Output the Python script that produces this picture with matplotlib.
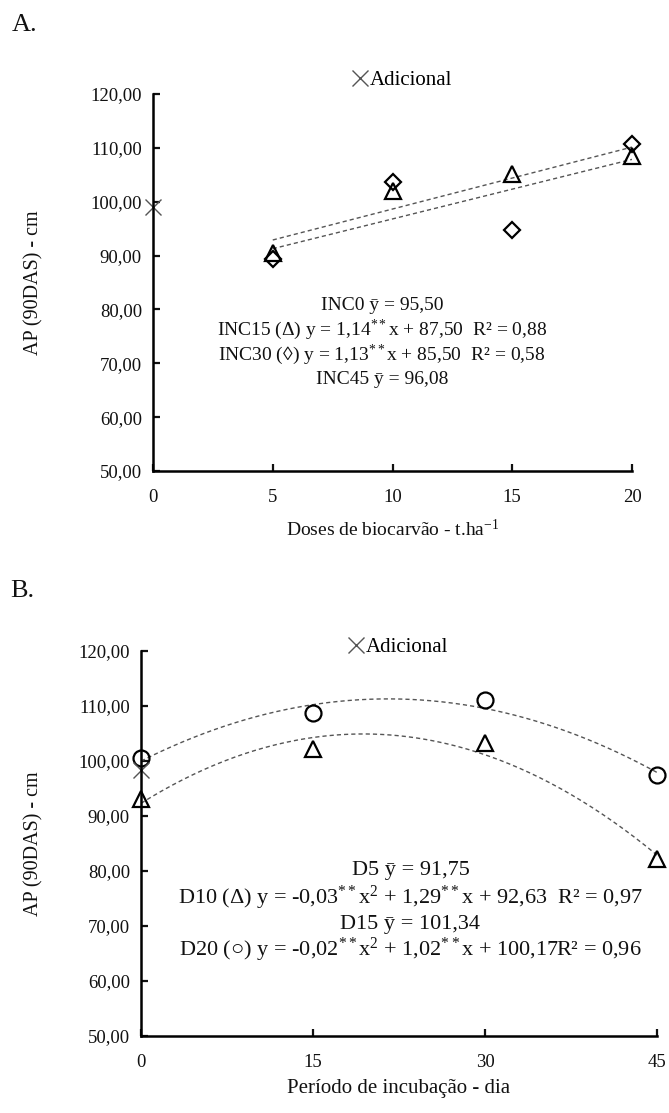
import numpy as np
import matplotlib.pyplot as plt
from matplotlib.ticker import FuncFormatter

plt.rcParams['font.family'] = ['Liberation Serif', 'DejaVu Serif']
plt.rcParams['mathtext.fontset'] = 'custom'
plt.rcParams['mathtext.rm'] = 'Liberation Serif'
plt.rcParams['mathtext.it'] = 'Liberation Serif:italic'

# Panel A - doses de biocarvão (t/ha)
doses = [5, 10, 15, 20]
inc15 = [90.4, 102.0, 105.2, 108.5]   # triângulos
inc30 = [89.3, 103.6, 94.7, 110.7]    # losangos
adicional_a = 99.0

# Panel B - período de incubação (dias)
dias = [0, 15, 30, 45]
d10 = [93.0, 102.2, 103.2, 82.2]      # triângulos
d20 = [100.5, 108.7, 111.1, 97.4]     # círculos
adicional_b = 98.3

eq_a = ['INC0 ȳ = 95,50',
        'INC15 (Δ) y = 1,14$^{**}$x + 87,50  R² = 0,88',
        'INC30 (◊) y = 1,13$^{**}$x + 85,50  R² = 0,58',
        'INC45 ȳ = 96,08']
eq_a_y = [80.8, 76.3, 71.5, 67.0]

eq_b = ['D5 ȳ = 91,75',
        'D10 (Δ) y = -0,03$^{**}$x$^2$ + 1,29$^{**}$x + 92,63  R² = 0,97',
        'D15 ȳ = 101,34',
        'D20 (○) y = -0,02$^{**}$x$^2$ + 1,02$^{**}$x + 100,17R² = 0,96']
eq_b_y = [80.0, 75.1, 70.2, 65.6]

TEXT = '#111111'
LINE = '#555555'


def style_axes(ax):
    for side in ('top', 'right'):
        ax.spines[side].set_visible(False)
    for side in ('left', 'bottom'):
        ax.spines[side].set_linewidth(1.8)
    ax.tick_params(direction='in', length=5, width=1.6, labelsize=13.5,
                   colors=TEXT)
    ax.tick_params(axis='y', pad=8)
    ax.tick_params(axis='x', pad=13)
    ax.set_ylim(50, 120)
    ax.set_yticks(range(50, 121, 10))
    ax.yaxis.set_major_formatter(
        FuncFormatter(lambda v, p: f'{v:.2f}'.replace('.', ',')))
    ax.set_ylabel('AP (90DAS) - cm', fontsize=14.5, color=TEXT)


def adicional_legend(ax, handle, pos):
    ax.legend([handle], ['Adicional'], loc='center', bbox_to_anchor=pos,
              frameon=False, handlelength=0.8, handletextpad=0.05,
              fontsize=15, borderaxespad=0)


fig = plt.figure(figsize=(6.69, 11.13), dpi=100)
ax_a = fig.add_axes([0.2287, 0.5768, 0.716, 0.3387])
ax_b = fig.add_axes([0.2108, 0.0692, 0.7713, 0.3459])

# ---- Panel A ----
style_axes(ax_a)
ax_a.set_xlim(0, 20)
ax_a.set_xticks([0, 5, 10, 15, 20])
xs = np.linspace(min(doses), max(doses), 50)
for vals in (inc15, inc30):
    coef = np.polyfit(doses, vals, 1)
    ax_a.plot(xs, np.polyval(coef, xs), color=LINE, lw=1, dashes=(3, 2.2))
ax_a.plot(doses, inc15, '^', ms=11, mfc='none', mec='black', mew=1.6,
          clip_on=False)
ax_a.plot(doses, inc30, 'D', ms=8, mfc='none', mec='black', mew=1.6,
          clip_on=False)
h_a = ax_a.plot([0], [adicional_a], 'x', ms=12, mec='#555555', mew=1,
                clip_on=False)[0]
adicional_legend(ax_a, h_a, (0.52, 1.037))
for txt, yv in zip(eq_a, eq_a_y):
    ax_a.text(9.56, yv, txt, ha='center', va='center', fontsize=14,
              color=TEXT)
ax_a.set_xlabel('Doses de biocarvão - t.ha$^{-1}$', fontsize=14,
                color=TEXT, labelpad=9)
ax_a.yaxis.set_label_coords(-0.228, 0.5)

# ---- Panel B ----
style_axes(ax_b)
ax_b.set_xlim(0, 45)
ax_b.set_xticks(dias)
xs = np.linspace(min(dias), max(dias), 200)
for vals in (d10, d20):
    coef = np.polyfit(dias, vals, 2)
    ax_b.plot(xs, np.polyval(coef, xs), color=LINE, lw=1, dashes=(3, 2.2))
ax_b.plot(dias, d10, '^', ms=11, mfc='none', mec='black', mew=1.6,
          clip_on=False)
ax_b.plot(dias, d20, 'o', ms=11.5, mfc='none', mec='black', mew=1.6,
          clip_on=False)
h_b = ax_b.plot([0], [adicional_b], 'x', ms=12, mec='#555555', mew=1,
                clip_on=False)[0]
adicional_legend(ax_b, h_b, (0.498, 1.01))
for txt, yv in zip(eq_b, eq_b_y):
    ax_b.text(23.5, yv, txt, ha='center', va='center', fontsize=16,
              color=TEXT)
ax_b.set_xlabel('Período de incubação - dia', fontsize=15, color=TEXT,
                labelpad=6)
ax_b.yaxis.set_label_coords(-0.19, 0.5)

fig.text(0.018, 0.9775, 'A.', fontsize=19, va='center', color=TEXT)
fig.text(0.015, 0.469, 'B.', fontsize=19, va='center', color=TEXT)

fig.savefig('out.png', dpi=100)
